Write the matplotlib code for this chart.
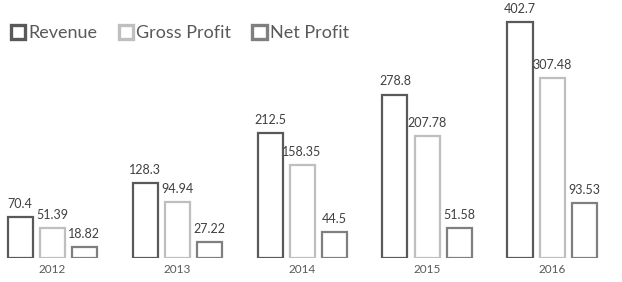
import matplotlib
matplotlib.use("Agg")
import matplotlib.pyplot as plt
import numpy as np
from matplotlib.patches import Patch

years = ["2012", "2013", "2014", "2015", "2016"]
revenue = [70.4, 128.3, 212.5, 278.8, 402.7]
gross_profit = [51.39, 94.94, 158.35, 207.78, 307.48]
net_profit = [18.82, 27.22, 44.5, 51.58, 93.53]

series = [
    ("Revenue", revenue, "#595959"),
    ("Gross Profit", gross_profit, "#bfbfbf"),
    ("Net Profit", net_profit, "#7f7f7f"),
]

plt.rcParams['font.family'] = ['Lato', 'DejaVu Sans']

fig = plt.figure(figsize=(6.22, 2.82), dpi=100)
ax = fig.add_axes([0, 24/282, 1, 258/282])

x = np.arange(len(years))
w = 0.2
step = 0.256
for i, (name, vals, col) in enumerate(series):
    pos = x + (i - 1) * step
    ax.bar(pos, vals, width=w, facecolor="white", edgecolor=col, linewidth=1.6)
    for p, v in zip(pos, vals):
        ax.text(p, v + 12, f"{v:g}", ha="center", va="bottom", fontsize=9, color="#404040")

ax.set_xlim(-0.416, 4.56)
ax.set_ylim(0, 440)
ax.axis("off")

for xi, yr in zip(x, years):
    ax.text(xi, -10, yr, ha="center", va="top", fontsize=8.5, color="#595959")

handles = [Patch(facecolor="white", edgecolor=c, linewidth=2.4, label=n) for n, _, c in series]
leg = fig.legend(handles=handles, loc="upper left", bbox_to_anchor=(0.0, 0.95), ncol=3,
                 frameon=False, fontsize=13, handlelength=0.8, handleheight=0.8,
                 handletextpad=0.15, columnspacing=1.2, borderaxespad=0.2)
for t in leg.get_texts():
    t.set_color("#595959")

fig.savefig("out.png", dpi=100)
